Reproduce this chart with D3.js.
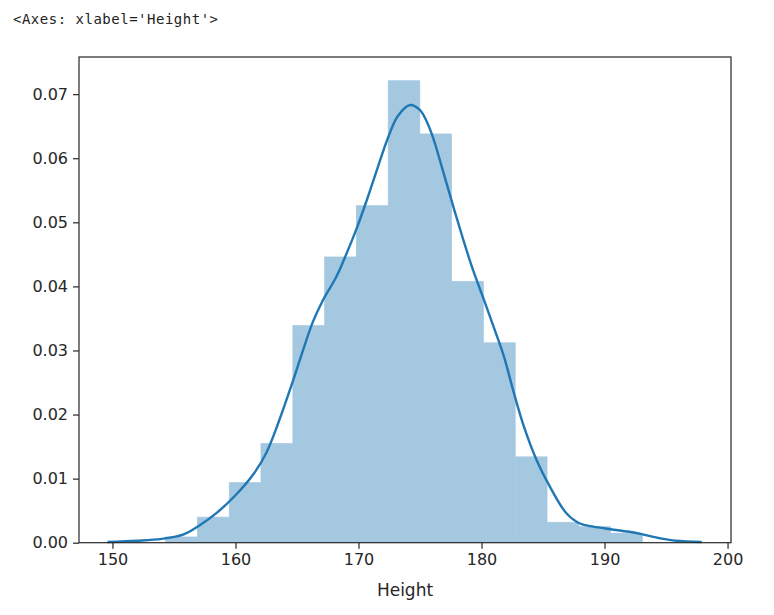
<!DOCTYPE html>
<html>
<head>
<meta charset="utf-8">
<script src="https://cdn.jsdelivr.net/npm/d3@7"></script>
<style>
    body { margin: 0; background: #fff; }
    svg { display: block; }
    .tick text { font-family: "DejaVu Sans", sans-serif; font-size: 16px; fill: #262626; }
</style>
</head>
<body>
<div id="chart"></div>
<script>
// histogram bin edges (Height) and densities
const binEdges = [154.32, 156.90, 159.49, 162.07, 164.66, 167.24, 169.82, 172.41,
    174.99, 177.57, 180.16, 182.74, 185.33, 187.91, 190.49, 193.08];
const binDensity = [0.0009, 0.0040, 0.0094, 0.0155, 0.0339, 0.0446, 0.0526, 0.0721,
    0.0638, 0.0408, 0.0312, 0.0134, 0.0032, 0.0025, 0.0015];

// kde curve
const kdeX = [149.6, 152.0, 154.0, 155.8, 157.0, 158.5, 160.0, 161.5, 162.5, 163.5,
    164.7, 165.5, 166.3, 167.1, 168.2, 169.0, 169.9, 170.7, 171.5, 172.4, 173.2,
    174.2, 175.0, 175.6, 176.1, 176.9, 177.7, 178.5, 179.3, 180.2, 181.0, 181.8,
    182.6, 183.4, 184.5, 185.6, 186.9, 188.0, 189.1, 190.5, 192.0, 193.1, 194.5, 195.8, 197.9];
const kdeY = [0.0001, 0.0003, 0.0006, 0.0013, 0.0026, 0.0047, 0.0074, 0.0108, 0.0140, 0.0188,
    0.0254, 0.0301, 0.0345, 0.0378, 0.0415, 0.0450, 0.0493, 0.0536, 0.0582, 0.0632, 0.0666,
    0.0683, 0.0675, 0.0655, 0.0630, 0.0578, 0.0525, 0.0474, 0.0426, 0.0379, 0.0336, 0.0292,
    0.0236, 0.0184, 0.0128, 0.0086, 0.0046, 0.0030, 0.0025, 0.0021, 0.0017, 0.0013, 0.0007, 0.0003, 0.0001];

const xTicks = [150, 160, 170, 180, 190, 200];
const yTicks = [0, 0.01, 0.02, 0.03, 0.04, 0.05, 0.06, 0.07];

const width = 774, height = 615;
const plot = { left: 79, right: 731, top: 57, bottom: 542.7 };

let svg = d3.select("#chart").
append("svg").
attr("width", width).
attr("height", height);

// repr line printed above the figure
svg.append("text").
attr("x", 13).
attr("y", 24).
attr("textLength", 205).
style("font-family", "'DejaVu Sans Mono', monospace").
style("font-size", "14px").
style("fill", "#222").
text("<Axes: xlabel='Height'>");

let xScale = d3.scaleLinear().
domain([147.28, 200.28]).
range([plot.left, plot.right]);

let yScale = d3.scaleLinear().
domain([0, 0.0758]).
range([plot.bottom, plot.top]);

let bins = binDensity.map((d, i) => ({ x0: binEdges[i], x1: binEdges[i + 1], y: d }));

// C0 at alpha 0.4 over white, drawn solid so neighbouring bars show no seams
svg.selectAll(".bar").
data(bins).
enter().
append("rect").
attr("class", "bar").
attr("x", d => xScale(d.x0)).
attr("y", d => yScale(d.y)).
attr("width", d => xScale(d.x1) - xScale(d.x0)).
attr("height", d => yScale(0) - yScale(d.y)).
style("fill", "#a5c8e1").
style("stroke", "#a5c8e1").
style("stroke-width", 0.6);

let line = d3.line().
x(d => xScale(d[0])).
y(d => yScale(d[1])).
curve(d3.curveCatmullRom);

svg.append("path").
datum(kdeX.map((x, i) => [x, kdeY[i]])).
attr("d", line).
style("fill", "none").
style("stroke", "#1f77b4").
style("stroke-width", 2.4).
style("stroke-linejoin", "round");

// axes
let xAxis = svg.append("g").
attr("transform", "translate(0," + plot.bottom + ")").
call(d3.axisBottom(xScale).
tickValues(xTicks).
tickFormat(d3.format("d")).
tickSize(6).
tickPadding(5));

let yAxis = svg.append("g").
attr("transform", "translate(" + plot.left + ",0)").
call(d3.axisLeft(yScale).
tickValues(yTicks).
tickFormat(d3.format(".2f")).
tickSize(6).
tickPadding(5));

[xAxis, yAxis].forEach(a => {
    a.select(".domain").remove();
    a.selectAll(".tick line").style("stroke", "#262626").style("stroke-width", 1.2);
});

// frame
svg.append("rect").
attr("x", plot.left).
attr("y", plot.top).
attr("width", plot.right - plot.left).
attr("height", plot.bottom - plot.top).
style("fill", "none").
style("stroke", "#262626").
style("stroke-width", 1.2);

svg.append("text").
attr("x", (plot.left + plot.right) / 2).
attr("y", 596).
attr("text-anchor", "middle").
style("font-family", "'DejaVu Sans', sans-serif").
style("font-size", "17px").
style("fill", "#262626").
text("Height");
</script>
</body>
</html>
